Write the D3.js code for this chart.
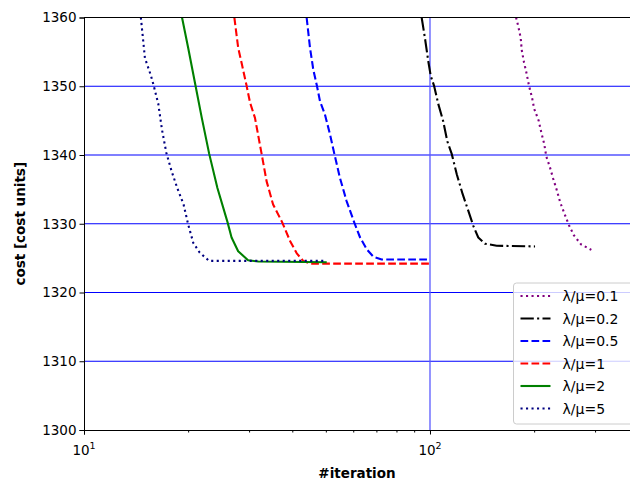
<!DOCTYPE html>
<html>
<head>
<meta charset="utf-8">
<script src="https://cdn.jsdelivr.net/npm/d3@7"></script>
<style>
  body { margin: 0; background: #fff; }
  svg { font-family: "DejaVu Sans", sans-serif; }
</style>
</head>
<body>
<div id="chart"></div>
<script>
// series: iteration count vs cost
const iter01 = [177.3, 180.0, 182.9, 184.1, 186.9, 190.3, 193.2, 197.1, 200.1, 206.1, 209.7, 213.9, 216.8, 222.2, 227.2, 232.8, 237.9, 245.0, 252.1, 260.7, 273.2, 292.6];
const cost01 = [1360, 1358.7, 1357.0, 1355.3, 1353.5, 1351.8, 1350.1, 1348.4, 1346.7, 1345.0, 1343.3, 1341.6, 1339.8, 1338.2, 1336.5, 1334.8, 1333.1, 1331.4, 1329.8, 1328.3, 1327.0, 1326.2];

const iter02 = [94.6, 96.7, 98.9, 100.5, 102.7, 105.7, 109.2, 112.2, 115.5, 119.5, 124.3, 129.0, 133.4, 137.9, 144.2, 155.9, 201.2];
const cost02 = [1360, 1357.0, 1353.6, 1351.5, 1350.1, 1347.4, 1344.9, 1342.0, 1340.2, 1337.2, 1334.3, 1331.9, 1329.7, 1328.0, 1327.1, 1326.8, 1326.7];

const iter05 = [44.0, 45.0, 46.0, 47.1, 48.1, 49.7, 51.4, 52.9, 54.9, 57.4, 60.4, 62.8, 65.6, 68.6, 72.5, 100];
const cost05 = [1360, 1355.6, 1352.4, 1350.1, 1347.8, 1345.9, 1343.0, 1340.2, 1336.7, 1333.3, 1330.2, 1328.0, 1326.3, 1325.2, 1324.8, 1324.8];

const iter1 = [27.2, 27.9, 28.6, 29.5, 30.2, 31.2, 32.6, 33.7, 35.2, 37.4, 39.4, 41.2, 43.0, 45.0, 100];
const cost1 = [1360, 1355.6, 1353.2, 1350.1, 1347.6, 1345.4, 1340.2, 1336.2, 1332.8, 1330.2, 1327.5, 1325.7, 1324.6, 1324.2, 1324.2];

const iter2 = [19.2, 20.0, 21.0, 21.9, 23.0, 24.3, 26.0, 26.7, 27.9, 29.8, 31.9, 50.3];
const cost2 = [1360, 1355.6, 1350.1, 1345.4, 1340.2, 1335.2, 1330.2, 1328.0, 1326.0, 1324.7, 1324.5, 1324.4];

const iter5 = [14.6, 14.7, 15.0, 15.6, 15.9, 16.4, 16.8, 17.3, 17.9, 18.6, 19.4, 20.0, 20.7, 21.6, 23.0, 49.7];
const cost5 = [1360, 1358.5, 1354.1, 1351.6, 1350.1, 1347.4, 1343.7, 1340.3, 1337.7, 1335.2, 1332.8, 1329.9, 1327.2, 1325.8, 1324.6, 1324.6];

const labels = ["λ/μ=0.1", "λ/μ=0.2", "λ/μ=0.5", "λ/μ=1", "λ/μ=2", "λ/μ=5"];
const yTicks = [1300, 1310, 1320, 1330, 1340, 1350, 1360];
const xMajor = [10, 100];
const xMinor = [20, 30, 40, 50, 60, 70, 80, 90, 200, 300];

const series = [
    {name: labels[0], x: iter01, y: cost01, color: "purple", dash: "2.1,3.4"},
    {name: labels[1], x: iter02, y: cost02, color: "black", dash: "13.3,3.3,2.1,3.3"},
    {name: labels[2], x: iter05, y: cost05, color: "blue", dash: "7.7,3.3"},
    {name: labels[3], x: iter1, y: cost1, color: "red", dash: "7.7,3.3"},
    {name: labels[4], x: iter2, y: cost2, color: "green", dash: null},
    {name: labels[5], x: iter5, y: cost5, color: "navy", dash: "2.1,3.4"}
];

const width = 630, height = 483;
const margin = {top: 17.5, right: 0, bottom: 53, left: 84};

const xScale = d3.scaleLog()
    .domain([10, 378.5])
    .range([margin.left, width - margin.right]);

const yScale = d3.scaleLinear()
    .domain([1300, 1360])
    .range([height - margin.bottom, margin.top]);

let svg = d3.select("#chart")
    .append("svg")
    .attr("width", width)
    .attr("height", height);

svg.append("defs").append("clipPath")
    .attr("id", "plot")
    .append("rect")
    .attr("x", margin.left)
    .attr("y", margin.top)
    .attr("width", width - margin.left - margin.right)
    .attr("height", yScale(1300) - margin.top);

// grid (behind lines)
const grid = svg.append("g");
grid.selectAll("line.h")
    .data(yTicks.slice(1, -1))
    .join("line")
    .attr("class", "h")
    .attr("x1", margin.left).attr("x2", width)
    .attr("y1", d => yScale(d)).attr("y2", d => yScale(d))
    .attr("stroke", "blue").attr("stroke-width", 1.1);
grid.selectAll("line.v")
    .data([100])
    .join("line")
    .attr("class", "v")
    .attr("x1", d => xScale(d)).attr("x2", d => xScale(d))
    .attr("y1", margin.top).attr("y2", yScale(1300))
    .attr("stroke", "#5a5aff").attr("stroke-width", 1.3);

// lines
const line = d3.line()
    .x(d => xScale(d[0]))
    .y(d => yScale(d[1]));

const lines = svg.append("g").attr("clip-path", "url(#plot)");
series.forEach(function(s) {
    const pts = s.x.map((v, i) => [v, s.y[i]]);
    lines.append("path")
        .datum(pts)
        .attr("d", line)
        .attr("fill", "none")
        .attr("stroke", s.color)
        .attr("stroke-width", 2.1)
        .attr("stroke-dasharray", s.dash)
        .attr("stroke-linejoin", "round");
});

// axes
const xAxis = svg.append("g")
    .attr("transform", `translate(0,${yScale(1300)})`)
    .call(d3.axisBottom(xScale).tickValues(xMajor).tickSize(4.5).tickFormat(""));
svg.append("g")
    .attr("transform", `translate(0,${yScale(1300)})`)
    .call(d3.axisBottom(xScale).tickValues(xMinor).tickSize(2.5).tickFormat(""))
    .call(g => g.select(".domain").remove());

xMajor.forEach(function(v) {
    const t = svg.append("text")
        .attr("x", xScale(v))
        .attr("y", 455)
        .attr("text-anchor", "middle")
        .attr("font-size", 13.5)
        .attr("fill", "#000");
    t.append("tspan").text("10");
    t.append("tspan").attr("dy", -6).attr("font-size", 9.5).text(Math.round(Math.log10(v)));
});

const yAxis = svg.append("g")
    .attr("transform", `translate(${margin.left},0)`)
    .call(d3.axisLeft(yScale).tickValues(yTicks).tickSize(4.5).tickPadding(3).tickFormat(d3.format("d")));
yAxis.selectAll("text").attr("font-size", 13.5).attr("fill", "#000")
    .attr("font-family", "DejaVu Sans");
xAxis.selectAll("line").attr("stroke", "#000");
yAxis.select(".domain").attr("stroke", "#000");

// top spine
svg.append("line")
    .attr("x1", margin.left).attr("x2", width)
    .attr("y1", margin.top).attr("y2", margin.top)
    .attr("stroke", "#000").attr("stroke-width", 1.1);

svg.append("text")
    .attr("x", (width - margin.left - margin.right) / 2 + margin.left)
    .attr("y", 478)
    .attr("text-anchor", "middle")
    .attr("font-size", 13.5)
    .attr("font-weight", "bold")
    .text("#iteration");

svg.append("text")
    .attr("x", -(yScale(1300) + margin.top) / 2)
    .attr("y", 25)
    .attr("text-anchor", "middle")
    .attr("transform", "rotate(-90)")
    .attr("font-size", 13.5)
    .attr("font-weight", "bold")
    .text("cost [cost units]");

// legend
const lx = 513.5, ly = 283, rowH = 22.5;
const legend = svg.append("g");
legend.append("rect")
    .attr("x", lx).attr("y", ly)
    .attr("width", 120).attr("height", 141)
    .attr("rx", 3)
    .attr("fill", "#fff").attr("fill-opacity", 0.8)
    .attr("stroke", "#ccc");
series.forEach(function(s, i) {
    const y = ly + 13 + i * rowH;
    legend.append("line")
        .attr("x1", lx + 7).attr("x2", lx + 37)
        .attr("y1", y).attr("y2", y)
        .attr("stroke", s.color)
        .attr("stroke-width", 2.1)
        .attr("stroke-dasharray", s.dash);
    legend.append("text")
        .attr("x", lx + 49)
        .attr("y", y + 5)
        .attr("font-size", 14)
        .text(s.name);
});
</script>
</body>
</html>
